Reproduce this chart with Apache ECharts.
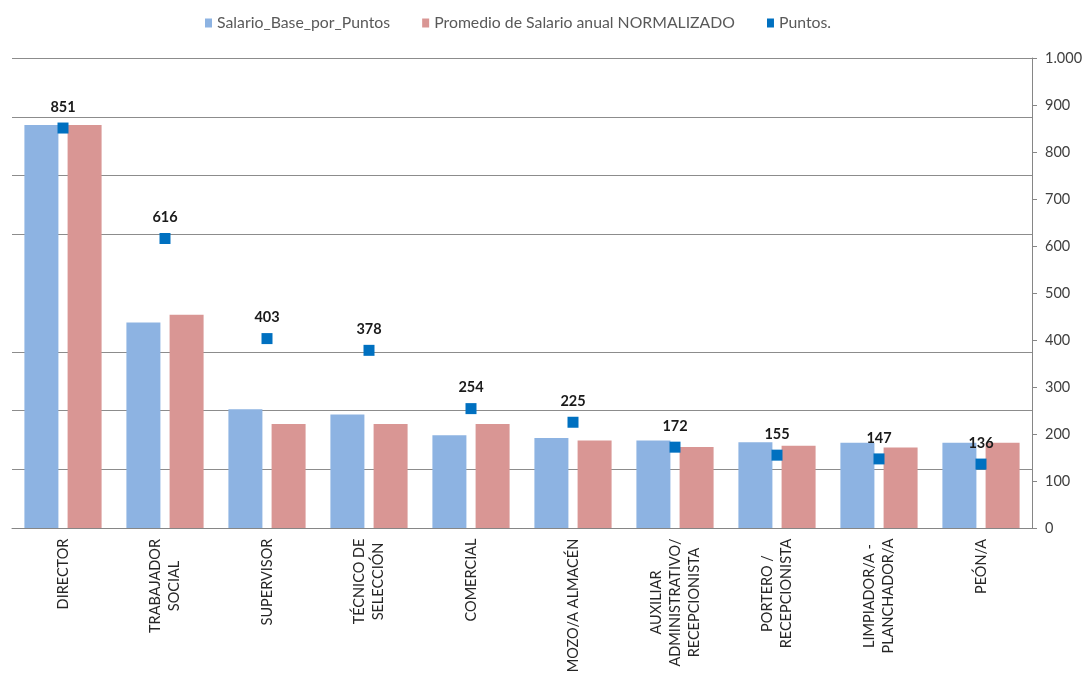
<!DOCTYPE html>
<html>
<head>
<meta charset="utf-8">
<style>
  html, body { margin: 0; padding: 0; background: #ffffff; }
  #chart { width: 1089px; height: 673px; }
</style>
<script src="https://cdn.jsdelivr.net/npm/echarts@6/dist/echarts.min.js"></script>
</head>
<body>
<div id="chart"></div>
<script>
// Puestos de trabajo (eje de categorías)
const categorias = [
  'DIRECTOR',
  'TRABAJADOR\nSOCIAL',
  'SUPERVISOR',
  'TÉCNICO DE\nSELECCIÓN',
  'COMERCIAL',
  'MOZO/A ALMACÉN',
  'AUXILIAR\nADMINISTRATIVO/\nRECEPCIONISTA',
  'PORTERO /\nRECEPCIONISTA',
  'LIMPIADOR/A -\nPLANCHADOR/A',
  'PEÓN/A'
];

// Salarios (eje principal, sin etiquetas)
const salarioBasePorPuntos = [68600, 35000, 20200, 19300, 15800, 15300, 14900, 14600, 14500, 14500];
const promedioSalarioNormalizado = [68600, 36300, 17700, 17700, 17700, 14900, 13800, 14000, 13700, 14500];

// Puntos de valoración (eje secundario)
const puntos = [851, 616, 403, 378, 254, 225, 172, 155, 147, 136];

// Escalas de los ejes
const ejeSalario = { min: 0, max: 80000, interval: 10000 };
const ejePuntos = { min: 0, max: 1000, interval: 100 };

const FONT = 'Lato, "Open Sans", sans-serif';
const LABEL_SIZE = 14.5;

// Separador de miles con punto
function miles(v) {
  return String(v).replace(/\B(?=(\d{3})+(?!\d))/g, '.');
}

// Cada etiqueta multilínea se centra línea a línea: se mide la línea más larga
const ctx = document.createElement('canvas').getContext('2d');
ctx.font = LABEL_SIZE + 'px ' + FONT;
const rich = {};
categorias.forEach((c, i) => {
  const w = Math.max(...c.split('\n').map(l => ctx.measureText(l).width));
  rich['c' + i] = {
    width: Math.ceil(w) + 1,
    align: 'center',
    fontFamily: FONT,
    fontSize: LABEL_SIZE,
    color: '#262626',
    lineHeight: 19
  };
});

// Línea de rejilla en cada división salvo la quinta (índice 4 desde abajo)
const rejilla = ['#8c8c8c', '#8c8c8c', '#8c8c8c', '#8c8c8c', 'rgba(0,0,0,0)', '#8c8c8c', '#8c8c8c', '#8c8c8c', '#8c8c8c'];

const chart = echarts.init(document.getElementById('chart'), null, { renderer: 'canvas' });

chart.setOption({
  animation: false,
  backgroundColor: '#ffffff',
  textStyle: { fontFamily: FONT },
  legend: {
    top: 10,
    left: 200,
    icon: 'rect',
    itemWidth: 7,
    itemHeight: 9,
    itemGap: 32,
    textStyle: { fontFamily: FONT, fontSize: 15.8, color: '#595959' },
    data: ['Salario_Base_por_Puntos', 'Promedio de Salario anual NORMALIZADO', 'Puntos.']
  },
  grid: { left: 12, right: 57, top: 58, bottom: 145, containLabel: false, outerBoundsMode: 'none' },
  xAxis: {
    type: 'category',
    data: categorias,
    axisLine: { show: true, lineStyle: { color: '#868686', width: 1 } },
    axisTick: { show: false },
    axisLabel: {
      rotate: 90,
      interval: 0,
      margin: 10,
      formatter: (value, idx) => value.split('\n').map(l => '{c' + idx + '|' + l + '}').join('\n'),
      rich: rich
    }
  },
  yAxis: [
    {
      type: 'value',
      position: 'left',
      min: ejeSalario.min,
      max: ejeSalario.max,
      interval: ejeSalario.interval,
      axisLine: { show: false },
      axisTick: { show: false },
      axisLabel: { show: false },
      splitLine: { show: true, lineStyle: { color: rejilla, width: 1 } }
    },
    {
      type: 'value',
      position: 'right',
      min: ejePuntos.min,
      max: ejePuntos.max,
      interval: ejePuntos.interval,
      axisLine: { show: true, lineStyle: { color: '#868686', width: 1 } },
      axisTick: { show: true, inside: false, length: 5, lineStyle: { color: '#868686' } },
      axisLabel: {
        margin: 13,
        fontFamily: FONT,
        fontSize: 14.5,
        color: '#404040',
        formatter: v => miles(v)
      },
      splitLine: { show: false }
    }
  ],
  series: [
    {
      name: 'Salario_Base_por_Puntos',
      type: 'bar',
      yAxisIndex: 0,
      data: salarioBasePorPuntos,
      barWidth: 34,
      barGap: '27%',
      itemStyle: { color: '#8db3e2' },
      z: 2
    },
    {
      name: 'Promedio de Salario anual NORMALIZADO',
      type: 'bar',
      yAxisIndex: 0,
      data: promedioSalarioNormalizado,
      barWidth: 34,
      itemStyle: { color: '#d99694' },
      z: 2
    },
    {
      name: 'Puntos.',
      type: 'scatter',
      yAxisIndex: 1,
      data: puntos,
      symbol: 'rect',
      symbolSize: 11,
      itemStyle: { color: '#0070c0', opacity: 1 },
      z: 5,
      label: {
        show: true,
        position: 'top',
        distance: 8,
        fontFamily: FONT,
        fontSize: 14.5,
        fontWeight: 'bold',
        color: '#1a1a1a',
        formatter: p => p.value
      }
    }
  ]
});
</script>
</body>
</html>
